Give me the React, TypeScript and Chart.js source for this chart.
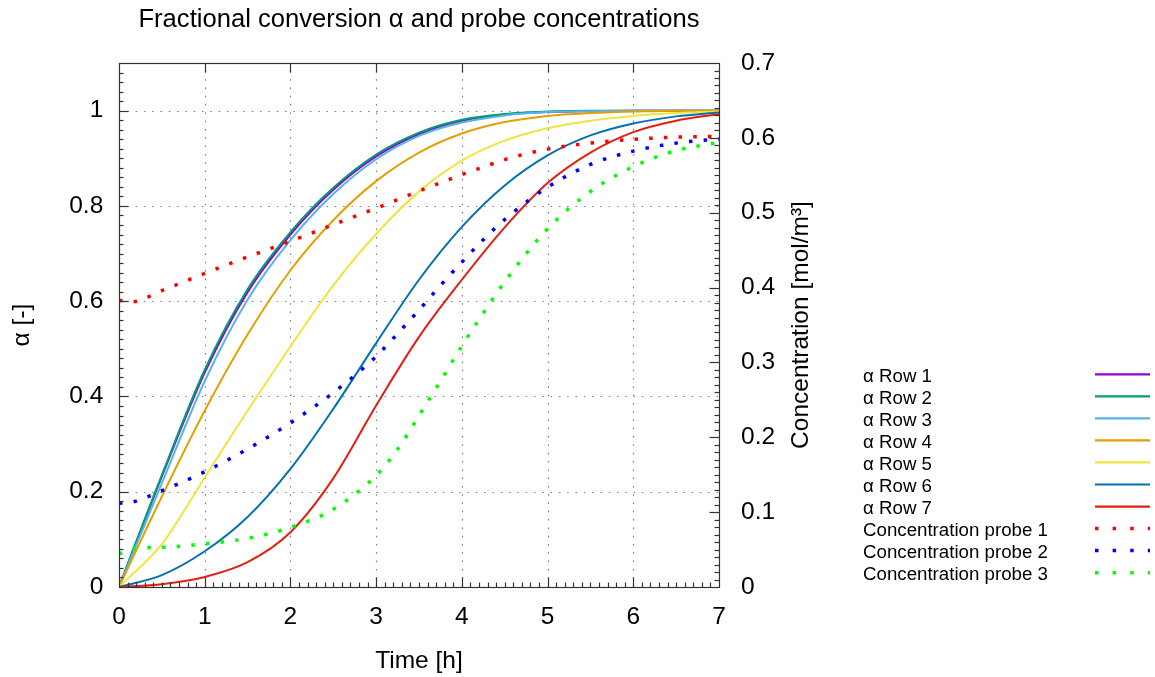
import React, { useEffect, useRef } from "react";
import { Chart, registerables } from "chart.js";

Chart.register(...registerables);

// ---------- data ----------
const alphaTimes = [0, 0.5, 1, 1.5, 2, 2.5, 3, 3.5, 4, 4.5, 5, 5.5, 6, 6.5, 7];
const alphaRow1 = [0, 0.232, 0.45, 0.619, 0.74, 0.834, 0.904, 0.951, 0.979, 0.992, 0.997, 0.999, 1, 1, 1];
const alphaRow2 = [0, 0.235, 0.456, 0.625, 0.745, 0.838, 0.908, 0.954, 0.981, 0.993, 0.998, 1, 1, 1, 1];
const alphaRow3 = [0, 0.218, 0.432, 0.603, 0.728, 0.825, 0.898, 0.947, 0.975, 0.99, 0.997, 0.999, 1, 1, 1];
const alphaRow4 = [0, 0.19, 0.37, 0.53, 0.665, 0.77, 0.852, 0.912, 0.952, 0.976, 0.989, 0.995, 0.998, 1, 1];
const alphaRow5 = [0, 0.09, 0.23, 0.37, 0.505, 0.633, 0.741, 0.83, 0.895, 0.937, 0.963, 0.979, 0.989, 0.995, 0.998];
const alphaRow6 = [0, 0.025, 0.075, 0.147, 0.248, 0.374, 0.512, 0.645, 0.756, 0.843, 0.906, 0.948, 0.973, 0.988, 0.996];
const alphaRow7 = [0, 0.006, 0.021, 0.052, 0.115, 0.228, 0.381, 0.525, 0.645, 0.755, 0.848, 0.912, 0.955, 0.979, 0.993];

const probeTimes = [0, 0.15, 0.5, 1, 1.5, 2, 2.5, 3, 3.25, 3.5, 3.75, 4, 4.25, 4.5, 5, 5.5, 6, 6.5, 7];
const probe1 = [0.383, 0.381, 0.396, 0.419, 0.441, 0.462, 0.484, 0.506, 0.5175, 0.529, 0.54, 0.551, 0.561, 0.571, 0.585, 0.593, 0.598, 0.601, 0.602];
const probe2 = [0.112, 0.1133, 0.1286, 0.154, 0.1844, 0.2192, 0.2596, 0.308, 0.3385, 0.37, 0.4028, 0.434, 0.4639, 0.491, 0.534, 0.5645, 0.5823, 0.593, 0.5986];
const probe3 = [0.044, 0.051, 0.053, 0.0577, 0.065, 0.0796, 0.104, 0.149, 0.184, 0.229, 0.275, 0.322, 0.366, 0.4078, 0.4786, 0.5284, 0.5617, 0.583, 0.594];

const alphaLabels = ["α Row 1", "α Row 2", "α Row 3", "α Row 4", "α Row 5", "α Row 6", "α Row 7"];
const alphaColors = ["#9400D3", "#009E73", "#56B4E9", "#E69F00", "#F0E442", "#0072B2", "#E51E10"];
const alphaSeries = [alphaRow1, alphaRow2, alphaRow3, alphaRow4, alphaRow5, alphaRow6, alphaRow7];
const probeLabels = ["Concentration probe 1", "Concentration probe 2", "Concentration probe 3"];
const probeColors = ["#FF0000", "#0000FF", "#00FF00"];
const probeSeries = [probe1, probe2, probe3];

const titleText = "Fractional conversion α and probe concentrations";
const xTitle = "Time [h]";
const yTitle = "α [-]";
const y2Title = "Concentration [mol/m³]";

const FONT = "'Liberation Sans', Arial, sans-serif";
const BIG = 24.5;
const TITLE = 25.6;
const SMALL = 18.7;

const fmt = (v: number) => String(Math.round(v * 100) / 100);

const decorPlugin = {
  id: "decor",
  beforeDatasetsDraw(chart: any) {
    const { ctx, chartArea: ca, scales } = chart;
    const x = scales.x, y = scales.y;
    ctx.save();
    ctx.strokeStyle = "rgba(110,110,110,0.9)";
    ctx.lineWidth = 1.2;
    ctx.setLineDash([1.5, 6.8]);
    for (let v = 1; v <= 6; v++) {
      const px = Math.round(x.getPixelForValue(v)) + 0.5;
      ctx.beginPath();
      ctx.moveTo(px, ca.bottom);
      ctx.lineTo(px, ca.top);
      ctx.stroke();
    }
    for (let k = 1; k <= 5; k++) {
      const py = Math.round(y.getPixelForValue(k * 0.2)) + 0.5;
      ctx.beginPath();
      ctx.moveTo(ca.left, py);
      ctx.lineTo(ca.right, py);
      ctx.stroke();
    }
    ctx.restore();
  },
  afterDatasetsDraw(chart: any) {
    const { ctx, chartArea: ca, scales } = chart;
    const x = scales.x, y = scales.y, y2 = scales.y2;
    ctx.save();
    ctx.strokeStyle = "#333";
    ctx.lineWidth = 1.2;
    ctx.setLineDash([]);
    const line = (x1: number, y1: number, x2: number, y2p: number) => {
      ctx.beginPath();
      ctx.moveTo(x1, y1);
      ctx.lineTo(x2, y2p);
      ctx.stroke();
    };
    const MAJ = 9.5, MIN = 4.5;
    for (let k = 1; k < 70; k++) {
      const px = Math.round(x.getPixelForValue(k / 10)) + 0.5;
      const len = k % 10 === 0 ? MAJ : MIN;
      line(px, ca.bottom, px, ca.bottom - len);
      if (k % 10 === 0) line(px, ca.top, px, ca.top + MAJ);
    }
    for (let k = 1; k < 55; k++) {
      const py = Math.round(y.getPixelForValue(k * 0.02)) + 0.5;
      const len = k % 10 === 0 ? MAJ : MIN;
      line(ca.left, py, ca.left + len, py);
    }
    for (let k = 1; k < 70; k++) {
      const py = Math.round(y2.getPixelForValue(k * 0.01)) + 0.5;
      const len = k % 10 === 0 ? MAJ : MIN;
      line(ca.right, py, ca.right - len, py);
    }
    ctx.strokeRect(Math.round(ca.left) + 0.5, Math.round(ca.top) + 0.5, Math.round(ca.right - ca.left), Math.round(ca.bottom - ca.top));
    ctx.restore();
  },
  afterDraw(chart: any) {
    const { ctx, chartArea: ca } = chart;
    ctx.save();
    ctx.fillStyle = "#000";
    ctx.font = `${BIG}px ${FONT}`;
    ctx.textAlign = "center";
    ctx.textBaseline = "middle";
    ctx.translate(ca.right + 82, (ca.top + ca.bottom) / 2);
    ctx.rotate(-Math.PI / 2);
    ctx.fillText(y2Title, 0, 0);
    ctx.restore();

    ctx.save();
    ctx.font = `${SMALL}px ${FONT}`;
    ctx.textAlign = "left";
    ctx.textBaseline = "middle";
    const ds = chart.data.datasets;
    for (let i = 0; i < ds.length; i++) {
      const ty = 376.7 + i * 22.04;
      ctx.fillStyle = "#000";
      ctx.fillText(ds[i].label, 863, ty);
      ctx.strokeStyle = ds[i].borderColor;
      ctx.lineWidth = ds[i].borderDash && ds[i].borderDash.length ? 3.5 : 2.2;
      ctx.setLineDash(ds[i].borderDash && ds[i].borderDash.length ? [3.5, 14.1] : []);
      ctx.beginPath();
      ctx.moveTo(1095, ty - 2.4);
      ctx.lineTo(1150, ty - 2.4);
      ctx.stroke();
    }
    ctx.restore();
  },
};

export default function App() {
  const ref = useRef<HTMLCanvasElement | null>(null);
  useEffect(() => {
    if (!ref.current) return;
    Chart.defaults.font.family = FONT;
    Chart.defaults.color = "#000";
    const datasets: any[] = [];
    alphaSeries.forEach((s, i) => {
      datasets.push({
        label: alphaLabels[i],
        data: alphaTimes.map((t, j) => ({ x: t, y: s[j] })),
        borderColor: alphaColors[i],
        backgroundColor: alphaColors[i],
        borderWidth: 2,
        pointRadius: 0,
        cubicInterpolationMode: "monotone",
        fill: false,
        yAxisID: "y",
        order: 20 - i,
      });
    });
    probeSeries.forEach((s, i) => {
      datasets.push({
        label: probeLabels[i],
        data: probeTimes.map((t, j) => ({ x: t, y: s[j] })),
        borderColor: probeColors[i],
        backgroundColor: probeColors[i],
        borderWidth: 3.5,
        borderDash: [3.5, 11.2],
        borderCapStyle: "butt",
        pointRadius: 0,
        cubicInterpolationMode: "monotone",
        fill: false,
        yAxisID: "y2",
        order: 10 - i,
      });
    });
    const chart = new Chart(ref.current, {
      type: "line",
      data: { datasets },
      options: {
        animation: false,
        responsive: false,
        devicePixelRatio: 1,
        layout: { padding: { left: 8, right: 325, top: 0, bottom: 0 } },
        plugins: {
          legend: { display: false },
          tooltip: { enabled: false },
          title: {
            display: true,
            text: titleText,
            color: "#000",
            font: { size: TITLE, family: FONT, weight: "normal" },
            padding: { top: 4.6, bottom: 27.7 },
          },
        },
        scales: {
          x: {
            type: "linear",
            min: 0,
            max: 7,
            grid: { display: false, drawTicks: false },
            border: { display: false },
            ticks: { stepSize: 1, padding: 16, color: "#000", font: { size: BIG }, maxRotation: 0, callback: (v: any) => fmt(v) },
            title: { display: true, text: xTitle, color: "#000", font: { size: BIG }, padding: { top: 0, bottom: 1.3 } },
            afterFit: (s: any) => { s.height = 90; },
          },
          y: {
            type: "linear",
            position: "left",
            min: 0,
            max: 1.1,
            grid: { display: false, drawTicks: false },
            border: { display: false },
            ticks: { stepSize: 0.2, includeBounds: false, padding: 15.7, color: "#000", font: { size: BIG }, callback: (v: any) => fmt(v) },
            title: { display: true, text: yTitle, color: "#000", font: { size: BIG }, padding: { top: 0, bottom: 0 } },
            afterFit: (s: any) => { s.width = 111; },
          },
          y2: {
            type: "linear",
            position: "right",
            min: 0,
            max: 0.7,
            grid: { display: false, drawTicks: false },
            border: { display: false },
            ticks: { stepSize: 0.1, padding: 22, color: "#000", font: { size: BIG }, callback: (v: any) => fmt(v) },
            afterFit: (s: any) => { s.width = 111; },
          },
        },
      } as any,
      plugins: [decorPlugin],
    });
    return () => chart.destroy();
  }, []);
  return (
    <div style={{ position: "absolute", left: 0, top: 0, width: 1155, height: 677, background: "#fff" }}>
      <canvas ref={ref} width={1155} height={677} style={{ display: "block" }} />
    </div>
  );
}
